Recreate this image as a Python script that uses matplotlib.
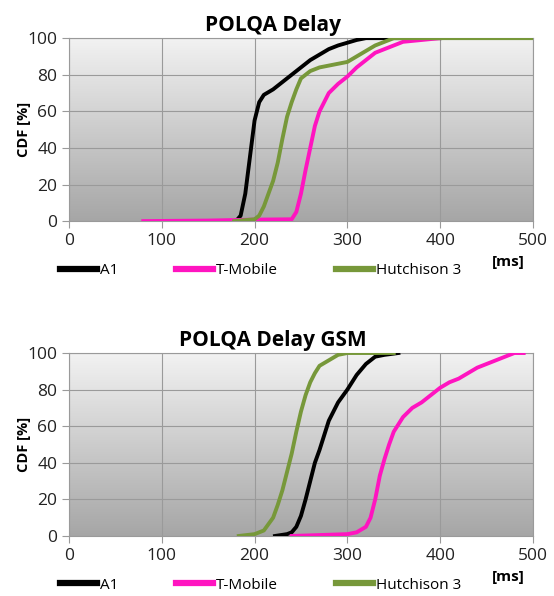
import numpy as np
import matplotlib
matplotlib.use("Agg")
import matplotlib.pyplot as plt
from matplotlib.lines import Line2D

plt.rcParams['font.family'] = ['Open Sans', 'DejaVu Sans']

series_names = ["A1", "T-Mobile", "Hutchison 3"]
series_colors = ["#000000", "#ff14c0", "#77983a"]

# POLQA Delay (top)
a1_x = [180, 185, 190, 195, 200, 205, 210, 220, 230, 240, 250, 260, 270, 280, 290, 300, 310, 320, 350, 400]
a1_y = [0, 3, 15, 35, 55, 65, 69, 72, 76, 80, 84, 88, 91, 94, 96, 97.5, 99, 100, 100, 100]
tm_x = [80, 150, 200, 240, 245, 250, 255, 260, 265, 270, 280, 290, 300, 310, 320, 330, 340, 350, 360, 380, 400]
tm_y = [0, 0.3, 0.8, 1, 5, 15, 28, 40, 52, 60, 70, 75, 79, 84, 88, 92, 94, 96, 98, 99, 100]
h3_x = [178, 200, 205, 210, 215, 220, 225, 230, 235, 240, 245, 250, 260, 270, 280, 290, 300, 310, 320, 330, 340, 350, 500]
h3_y = [0, 1, 3, 8, 15, 22, 32, 45, 57, 65, 72, 78, 82, 84, 85, 86, 87, 90, 93, 96, 98, 100, 100]

# POLQA Delay GSM (bottom)
g_a1_x = [222, 235, 240, 245, 250, 255, 260, 265, 270, 275, 280, 290, 300, 310, 320, 330, 340, 355]
g_a1_y = [0, 1, 2, 5, 11, 20, 30, 40, 47, 55, 63, 73, 80, 88, 94, 98, 99, 100]
g_tm_x = [240, 300, 310, 320, 325, 330, 335, 340, 345, 350, 360, 370, 380, 390, 400, 410, 420, 430, 440, 450, 460, 470, 480, 490]
g_tm_y = [0, 1, 2, 5, 10, 20, 33, 42, 50, 57, 65, 70, 73, 77, 81, 84, 86, 89, 92, 94, 96, 98, 100, 100]
g_h3_x = [183, 200, 210, 220, 225, 230, 235, 240, 245, 250, 255, 260, 265, 270, 280, 290, 300, 350]
g_h3_y = [0, 1, 3, 10, 17, 25, 35, 45, 57, 68, 77, 84, 89, 93, 96, 99, 100, 100]

x_ticks = [0, 100, 200, 300, 400, 500]
y_ticks = [0, 20, 40, 60, 80, 100]


def draw_panel(ax, title, data):
    grad = np.linspace(0, 1, 256).reshape(-1, 1)
    ax.imshow(grad, extent=[0, 1, 0, 1], transform=ax.transAxes, aspect='auto',
              cmap=matplotlib.colors.LinearSegmentedColormap.from_list('g', ['#f2f2f2', '#a6a6a6']),
              origin='upper', zorder=0)
    for (xs, ys), name, col in zip(data, series_names, series_colors):
        ax.plot(xs, ys, color=col, lw=2.8, label=name, zorder=3)
    ax.set_xlim(0, 500)
    ax.set_ylim(0, 100)
    ax.set_xticks(x_ticks)
    ax.set_yticks(y_ticks)
    ax.grid(True, color='#9a9a9a', lw=0.8, zorder=1)
    ax.set_axisbelow(False)
    for s in ax.spines.values():
        s.set_color('#9a9a9a')
    ax.tick_params(colors='#9a9a9a', labelcolor='#222222', labelsize=12.5, length=5)
    ax.set_ylabel("CDF [%]", fontsize=10.5, fontweight='bold', labelpad=-3)
    ax.set_title(title, fontsize=15, fontweight='bold', pad=5, x=0.44)
    ax.text(0.946, -0.225, "[ms]", transform=ax.transAxes, ha='center', va='center',
            fontsize=11, fontweight='bold')
    handles = [Line2D([], [], color=c, lw=4.5) for c in series_colors]
    ax.legend(handles, series_names, loc='upper left', bbox_to_anchor=(-0.032, -0.195),
              ncol=3, frameon=False, fontsize=11, handlelength=2.4, handletextpad=0.2,
              columnspacing=3.8, borderaxespad=0)


fig = plt.figure(figsize=(5.54, 5.96), dpi=100)
ax1 = fig.add_axes([0.1245, 0.629, 0.8375, 0.307])
ax2 = fig.add_axes([0.1245, 0.1007, 0.8375, 0.307])

draw_panel(ax1, "POLQA Delay", [(a1_x, a1_y), (tm_x, tm_y), (h3_x, h3_y)])
draw_panel(ax2, "POLQA Delay GSM", [(g_a1_x, g_a1_y), (g_tm_x, g_tm_y), (g_h3_x, g_h3_y)])

fig.savefig("out.png", dpi=100)
